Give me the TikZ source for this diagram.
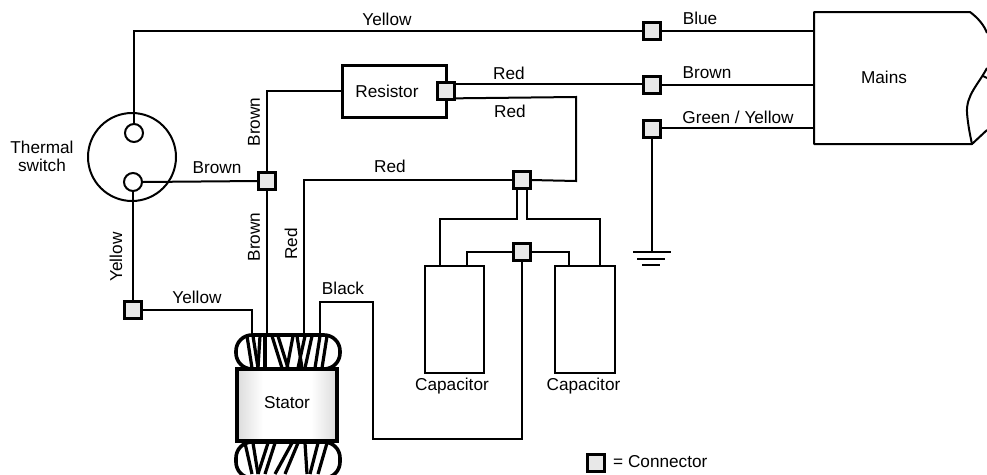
\documentclass[tikz,border=0pt]{standalone}
\usepackage{fontspec}
\setmainfont{Liberation Sans}
\pgfdeclarehorizontalshading{statorshade}{100bp}{
 color(0bp)=(black!14); color(25bp)=(black!14); color(38bp)=(white); color(62bp)=(white); color(75bp)=(black!14); color(100bp)=(black!14)}
\begin{document}
\begin{tikzpicture}[x=1pt,y=-1pt,
 wire/.style={line width=2pt,line join=miter},
 conn/.style={draw,line width=3.2pt,fill=black!9,minimum size=17.5pt,inner sep=0pt,outer sep=0pt},
 lbl/.style={font=\fontsize{17.2}{18}\selectfont,inner sep=0pt},
 coil/.style={line width=3.2pt},
]
\useasboundingbox (0,0) rectangle (987,474);
% mains
\coordinate (m1) at (814,31);
\coordinate (m2) at (814,85);
\coordinate (m3) at (814,128);
\draw[line width=2pt,line join=round] (987,33) .. controls (984,25) and (978,18) .. (970,12) -- (814,12) -- (814,144) -- (972,144) .. controls (970,135) and (968,125) .. (967,113) .. controls (966,95) and (978,85) .. (987,68);
\draw[line width=2pt] (972,144) -- (987,130);
\draw[line width=2pt] (987,78) -- (983,76);
\node[lbl] (mains) at (884,77) {Mains};
% thermal switch
\node[draw,circle,line width=2pt,minimum size=88pt,inner sep=0pt] (th) at (132,157) {};
\node[draw,circle,line width=2pt,minimum size=18pt,inner sep=0pt] (t1) at (134,133) {};
\node[draw,circle,line width=2pt,minimum size=18pt,inner sep=0pt] (t2) at (133,182) {};
\node[lbl,align=center] (thl) at (42,156) {Thermal\\switch};
% connectors
\node[conn] (c1) at (652,31) {};
\node[conn] (c2) at (652,85) {};
\node[conn] (c3) at (652,129) {};
\node[draw,line width=3pt,minimum width=104pt,minimum height=52pt,inner sep=0pt] (res) at (394,91) {};
\node[lbl] (resl) at (387,91) {Resistor};
\node[conn] (c4) at (446,91) {};
\node[conn] (c5) at (267,181) {};
\node[conn] (c6) at (522,180) {};
\node[conn] (c7) at (522,252) {};
\node[conn] (c8) at (133,310) {};
\node[conn] (leg) at (596,463) {};
\node[lbl,anchor=west] (legl) at (613,462) {= Connector};
% capacitors
\node[draw,line width=2pt,minimum width=59pt,minimum height=107pt,inner sep=0pt] (cap1) at (454.5,319.5) {};
\node[draw,line width=2pt,minimum width=60pt,minimum height=107pt,inner sep=0pt] (cap2) at (585,319.5) {};
\node[lbl] (cap1l) at (452,386) {Capacitor};
\node[lbl] (cap2l) at (583.5,386) {Capacitor};
% stator coils
\begin{scope}
\clip (225,326) rectangle (350,474);
\draw[line width=3.6pt,rounded corners=16pt] (236,335) rectangle (340,369);
\draw[line width=3.6pt,rounded corners=16pt] (236,442) rectangle (340,478);
\end{scope}
\foreach \a/\b in {247/252,253/258,260/258,265/265,272/282,278/288,293/287,297/302,305/298,312/305,320/315,327/322}{
  \draw[coil] (\a,336) -- (\b,368);
}
\foreach \a/\b in {245/252,253/258,268/258,275/265,292/275,298/285,305/307,318/310,327/318}{
  \draw[coil] (\a,443) -- (\b,474);
}
% stator
\node[draw,line width=3.5pt,minimum width=100pt,minimum height=72pt,inner sep=0pt,shading=statorshade] (st) at (287,405) {};
\node[lbl] (stl) at (287,403) {Stator};
% ground
\coordinate (g) at (652,252);
\draw[wire] (633,252) -- (671,252);
\draw[wire] (637,259) -- (665,259);
\draw[wire] (642,265) -- (660,265);
% wires
\draw[wire] (t1.north) -- (t1.north |- c1) -- (c1);
\draw[wire] (c1) -- (m1);
\draw[wire] (c2.east) -- (m2);
\draw[wire] (c3.east |- m3) -- (m3);
\draw[wire] (c3) -- (g);
\draw[wire] (c4.40) -- (c4.40 -| c2.west);
\draw[wire] (c4.-40) -- (576,97) -- (576,181) -- (c6.east);
\draw[wire] (c6.west) -- (304,180) -- (304,334);
\draw[wire] (res.west) -- (267,91) -- (c5.north);
\draw[wire] (c5.south) -- (267,334);
\draw[wire] (t2.east) -- (c5.west);
\draw[wire] (t2.south) -- (c8.north);
\draw[wire] (c8.east) -- (252,310) -- (252,334);
\draw[wire] (320,334) -- (320,302) -- (373,302) -- (373,439) -- (522,439) -- (c7.south);
\draw[wire] (c6.south -| 517,0) -- (517,219) -- (440,219) -- (440,266);
\draw[wire] (c6.south -| 527,0) -- (527,219) -- (600,219) -- (600,266);
\draw[wire] (c7.west) -- (467,252) -- (467,266);
\draw[wire] (c7.east) -- (569,252) -- (569,266);
% labels
\node[lbl] at (387,19) {Yellow};
\node[lbl] at (700,18) {Blue};
\node[lbl] at (707,73) {Brown};
\node[lbl] at (738,117) {Green / Yellow};
\node[lbl] at (509,73) {Red};
\node[lbl] at (510,111) {Red};
\node[lbl] at (390,166) {Red};
\node[lbl] at (217,168) {Brown};
\node[lbl,rotate=90] at (254,122) {Brown};
\node[lbl,rotate=90] at (254,237) {Brown};
\node[lbl,rotate=90] at (291,244) {Red};
\node[lbl,rotate=90] at (116,257) {Yellow};
\node[lbl] at (197,297) {Yellow};
\node[lbl] at (343,288) {Black};
\end{tikzpicture}
\end{document}
